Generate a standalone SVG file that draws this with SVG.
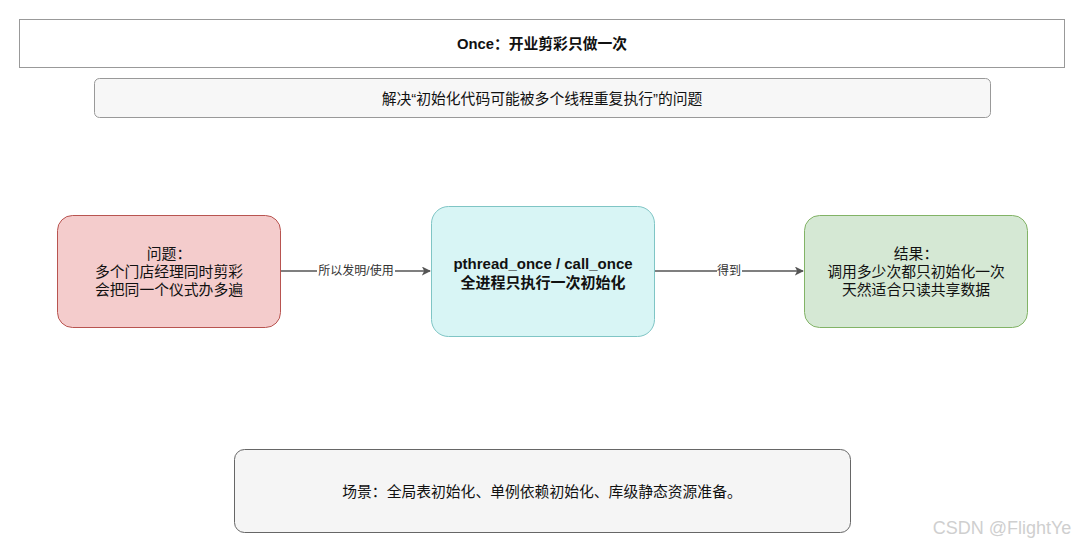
<svg xmlns="http://www.w3.org/2000/svg" width="1080" height="548" viewBox="0 0 1080 548">
<defs>
<marker id="arr" viewBox="0 0 10 10" refX="9" refY="5" markerWidth="9" markerHeight="9" markerUnits="userSpaceOnUse" orient="auto"><path d="M0,0 L10,5 L0,10 L2.5,5 Z" fill="#555"/></marker>
<style>
text{font-family:"Liberation Sans","Noto Sans CJK SC",sans-serif;fill:#111;text-anchor:middle;dominant-baseline:central}
.t{font-size:14.8px}
.b{font-size:14.8px;font-weight:bold}
.c{font-size:15px;font-weight:bold}
.l{font-size:12px;fill:#333}
.edge{stroke:#555;stroke-width:1.5;fill:none;marker-end:url(#arr)}
.lbl{fill:#fff}
</style>
</defs>
<rect width="1080" height="548" fill="#fff"/>
<g id="title"><rect x="19.5" y="19.5" width="1045" height="48" fill="#fff" stroke="#999"/><text class="b" x="542" y="44">Once：开业剪彩只做一次</text></g>
<g id="subtitle"><rect x="94.5" y="78.5" width="896" height="39" rx="5" fill="#f7f7f7" stroke="#999"/><text class="t" x="542" y="99">解决“初始化代码可能被多个线程重复执行”的问题</text></g>
<g id="connectors">
<line class="edge" x1="281" y1="271" x2="430" y2="271"/>
<rect class="lbl" x="317" y="263" width="78" height="16"/>
<text class="l" x="356" y="271">所以发明/使用</text>
<line class="edge" x1="654" y1="271" x2="803" y2="271"/>
<rect class="lbl" x="717" y="263" width="25" height="16"/>
<text class="l" x="729" y="271">得到</text>
</g>
<g id="problem"><rect x="57.5" y="215.5" width="223" height="112" rx="15" fill="#f4cccc" stroke="#b85450"/><text class="t" x="169" y="254">问题：</text><text class="t" x="169" y="272">多个门店经理同时剪彩</text><text class="t" x="169" y="290">会把同一个仪式办多遍</text></g>
<g id="once"><rect x="431.5" y="206.5" width="223" height="130" rx="17" fill="#d8f5f5" stroke="#7fc5c5"/><text class="c" x="543" y="263">pthread_once / call_once</text><text class="c" x="543" y="282">全进程只执行一次初始化</text></g>
<g id="result"><rect x="804.5" y="215.5" width="223" height="112" rx="15" fill="#d5e8d4" stroke="#82b366"/><text class="t" x="916" y="254">结果：</text><text class="t" x="916" y="272">调用多少次都只初始化一次</text><text class="t" x="916" y="290">天然适合只读共享数据</text></g>
<g id="scene"><rect x="234.5" y="449.5" width="616" height="83" rx="10" fill="#f5f5f5" stroke="#666"/><text class="t" x="542" y="492">场景：全局表初始化、单例依赖初始化、库级静态资源准备。</text></g>
<text x="1002" y="528" style="font-size:18px;fill:#cfcfcf">CSDN @FlightYe</text>
</svg>
